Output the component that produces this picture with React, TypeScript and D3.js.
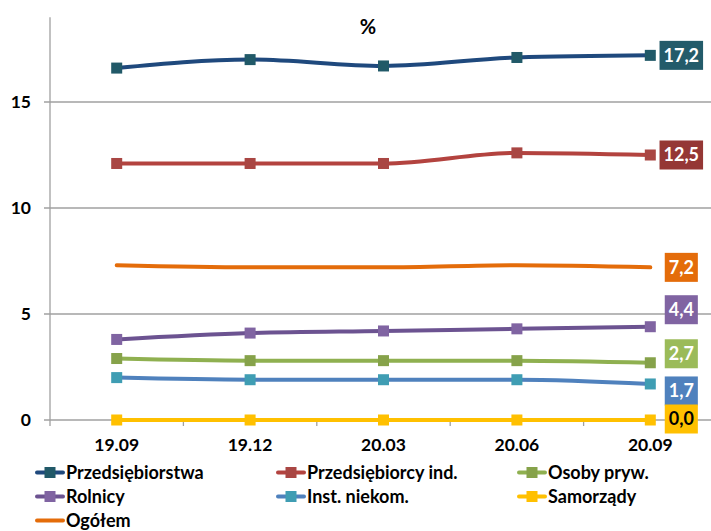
import React, { useEffect, useRef } from "react";
import * as d3 from "d3";

// Quarter-end periods on the x axis
const categories = ["19.09", "19.12", "20.03", "20.06", "20.09"];
const yTicks = [0, 5, 10, 15];

// Share values (%) per borrower group
const przedsiebiorstwa = [16.6, 17.0, 16.7, 17.1, 17.2];
const przedsiebiorcyInd = [12.1, 12.1, 12.1, 12.6, 12.5];
const osobyPryw = [2.9, 2.8, 2.8, 2.8, 2.7];
const rolnicy = [3.8, 4.1, 4.2, 4.3, 4.4];
const instNiekom = [2.0, 1.9, 1.9, 1.9, 1.7];
const samorzady = [0.0, 0.0, 0.0, 0.0, 0.0];
const ogolem = [7.3, 7.2, 7.2, 7.3, 7.2];

type Series = {
  name: string;
  values: number[];
  line: string;
  marker: string | null;
  labelBg: string;
  labelFg: string;
  labelDy: number;
};

const series: Series[] = [
  { name: "Przedsiębiorstwa", values: przedsiebiorstwa, line: "#1F497D", marker: "#215968", labelBg: "#235B6A", labelFg: "#fff", labelDy: 0 },
  { name: "Przedsiębiorcy ind.", values: przedsiebiorcyInd, line: "#B3433F", marker: "#A94643", labelBg: "#953735", labelFg: "#fff", labelDy: 0 },
  { name: "Osoby pryw.", values: osobyPryw, line: "#8FB050", marker: "#86A24A", labelBg: "#9BBB59", labelFg: "#fff", labelDy: -9 },
  { name: "Rolnicy", values: rolnicy, line: "#6C5391", marker: "#8064A2", labelBg: "#8064A2", labelFg: "#fff", labelDy: -17 },
  { name: "Inst. niekom.", values: instNiekom, line: "#4F81BD", marker: "#3F9DB3", labelBg: "#4F81BD", labelFg: "#fff", labelDy: 7 },
  { name: "Samorządy", values: samorzady, line: "#FFC000", marker: "#FFC000", labelBg: "#FFC000", labelFg: "#000", labelDy: -1 },
  { name: "Ogółem", values: ogolem, line: "#E46C0A", marker: null, labelBg: "#E46C0A", labelFg: "#fff", labelDy: 0 },
];

const W = 711;
const H = 531;
const FONT = "Lato, 'Open Sans', sans-serif";
const fmt = (v: number) => v.toFixed(1).replace(".", ",");

export default function App() {
  const ref = useRef<SVGSVGElement>(null);

  useEffect(() => {
    const svg = d3.select(ref.current);
    svg.selectAll("*").remove();

    const x = d3.scaleBand<string>().domain(categories).range([50, 717]);
    const y = d3.scaleLinear().domain([0, 19]).range([420, 17.2]);
    const cx = (c: string) => (x(c) as number) + x.bandwidth() / 2;

    // Horizontal gridlines (extend left past the axis as tick marks)
    svg.append("g")
      .selectAll("line")
      .data(yTicks)
      .join("line")
      .attr("x1", 44)
      .attr("x2", W)
      .attr("y1", (d) => y(d))
      .attr("y2", (d) => y(d))
      .attr("stroke", "#A0A0A0")
      .attr("stroke-width", 1.3);

    // Vertical axis
    svg.append("line")
      .attr("x1", 50).attr("x2", 50)
      .attr("y1", y(19)).attr("y2", y(0) + 6)
      .attr("stroke", "#A0A0A0").attr("stroke-width", 1.3);

    // Category boundary ticks
    svg.append("g")
      .selectAll("line")
      .data(categories.slice(1))
      .join("line")
      .attr("x1", (d) => x(d) as number)
      .attr("x2", (d) => x(d) as number)
      .attr("y1", y(0))
      .attr("y2", y(0) + 6)
      .attr("stroke", "#A0A0A0").attr("stroke-width", 1.3);

    // Y tick labels
    svg.append("g")
      .selectAll("text")
      .data(yTicks)
      .join("text")
      .attr("x", 31)
      .attr("y", (d) => y(d))
      .attr("dy", "0.36em")
      .attr("text-anchor", "end")
      .attr("font-family", FONT)
      .attr("font-weight", 700)
      .attr("font-size", 17.5)
      .attr("fill", "#000")
      .text((d) => String(d));

    // X tick labels
    svg.append("g")
      .selectAll("text")
      .data(categories)
      .join("text")
      .attr("x", (d) => cx(d))
      .attr("y", 445)
      .attr("dy", "0.36em")
      .attr("text-anchor", "middle")
      .attr("font-family", FONT)
      .attr("font-weight", 700)
      .attr("font-size", 17.5)
      .attr("fill", "#000")
      .text((d) => d);

    // Unit title
    svg.append("text")
      .attr("x", 368).attr("y", 27).attr("dy", "0.36em")
      .attr("text-anchor", "middle")
      .attr("font-family", FONT).attr("font-weight", 700).attr("font-size", 20)
      .text("%");

    const line = d3.line<number>()
      .x((_, i) => cx(categories[i]))
      .y((d) => y(d))
      .curve(d3.curveMonotoneX);

    const drawOrder = [6, 5, 4, 2, 3, 1, 0];
    drawOrder.forEach((si) => {
      const s = series[si];
      svg.append("path")
        .datum(s.values)
        .attr("d", line)
        .attr("fill", "none")
        .attr("stroke", s.line)
        .attr("stroke-width", 4)
        .attr("stroke-linecap", "round");
      if (s.marker) {
        svg.append("g")
          .selectAll("rect")
          .data(s.values)
          .join("rect")
          .attr("x", (_, i) => cx(categories[i]) - 5.5)
          .attr("y", (d) => y(d) - 5.5)
          .attr("width", 11)
          .attr("height", 11)
          .attr("fill", s.marker);
      }
    });

    // End-of-series value labels
    series.forEach((s) => {
      const last = s.values[s.values.length - 1];
      const px = cx(categories[categories.length - 1]);
      const py = y(last) + s.labelDy;
      const g = svg.append("g");
      const t = g.append("text")
        .attr("x", px + 31)
        .attr("y", py)
        .attr("dy", "0.36em")
        .attr("text-anchor", "middle")
        .attr("font-family", FONT)
        .attr("font-weight", 700)
        .attr("font-size", 18)
        .attr("fill", s.labelFg)
        .text(fmt(last));
      const tw = (t.node() as SVGTextElement).getComputedTextLength();
      const bw = tw + 8;
      g.insert("rect", "text")
        .attr("x", px + 31 - bw / 2)
        .attr("y", py - 14.5)
        .attr("width", bw)
        .attr("height", 29)
        .attr("fill", s.labelBg);
    });

    // Legend
    const legend = svg.append("g");
    series.forEach((s, i) => {
      const col = i % 3;
      const row = Math.floor(i / 3);
      const lx = 37 + col * 241;
      const ly = 472.5 + row * 24;
      const g = legend.append("g").attr("transform", `translate(${lx},${ly})`);
      g.append("line")
        .attr("x1", 0).attr("x2", 26).attr("y1", 0).attr("y2", 0)
        .attr("stroke", s.line).attr("stroke-width", 4).attr("stroke-linecap", "round");
      if (s.marker) {
        g.append("rect")
          .attr("x", 13 - 5.5).attr("y", -5.5)
          .attr("width", 11).attr("height", 11)
          .attr("fill", s.marker);
      }
      g.append("text")
        .attr("x", 29).attr("y", 0).attr("dy", "0.36em")
        .attr("font-family", FONT).attr("font-weight", 700).attr("font-size", 18)
        .attr("fill", "#000")
        .text(s.name);
    });
  }, []);

  return (
    <svg
      ref={ref}
      width={W}
      height={H}
      style={{ position: "absolute", left: 0, top: 0, background: "#fff" }}
    />
  );
}
